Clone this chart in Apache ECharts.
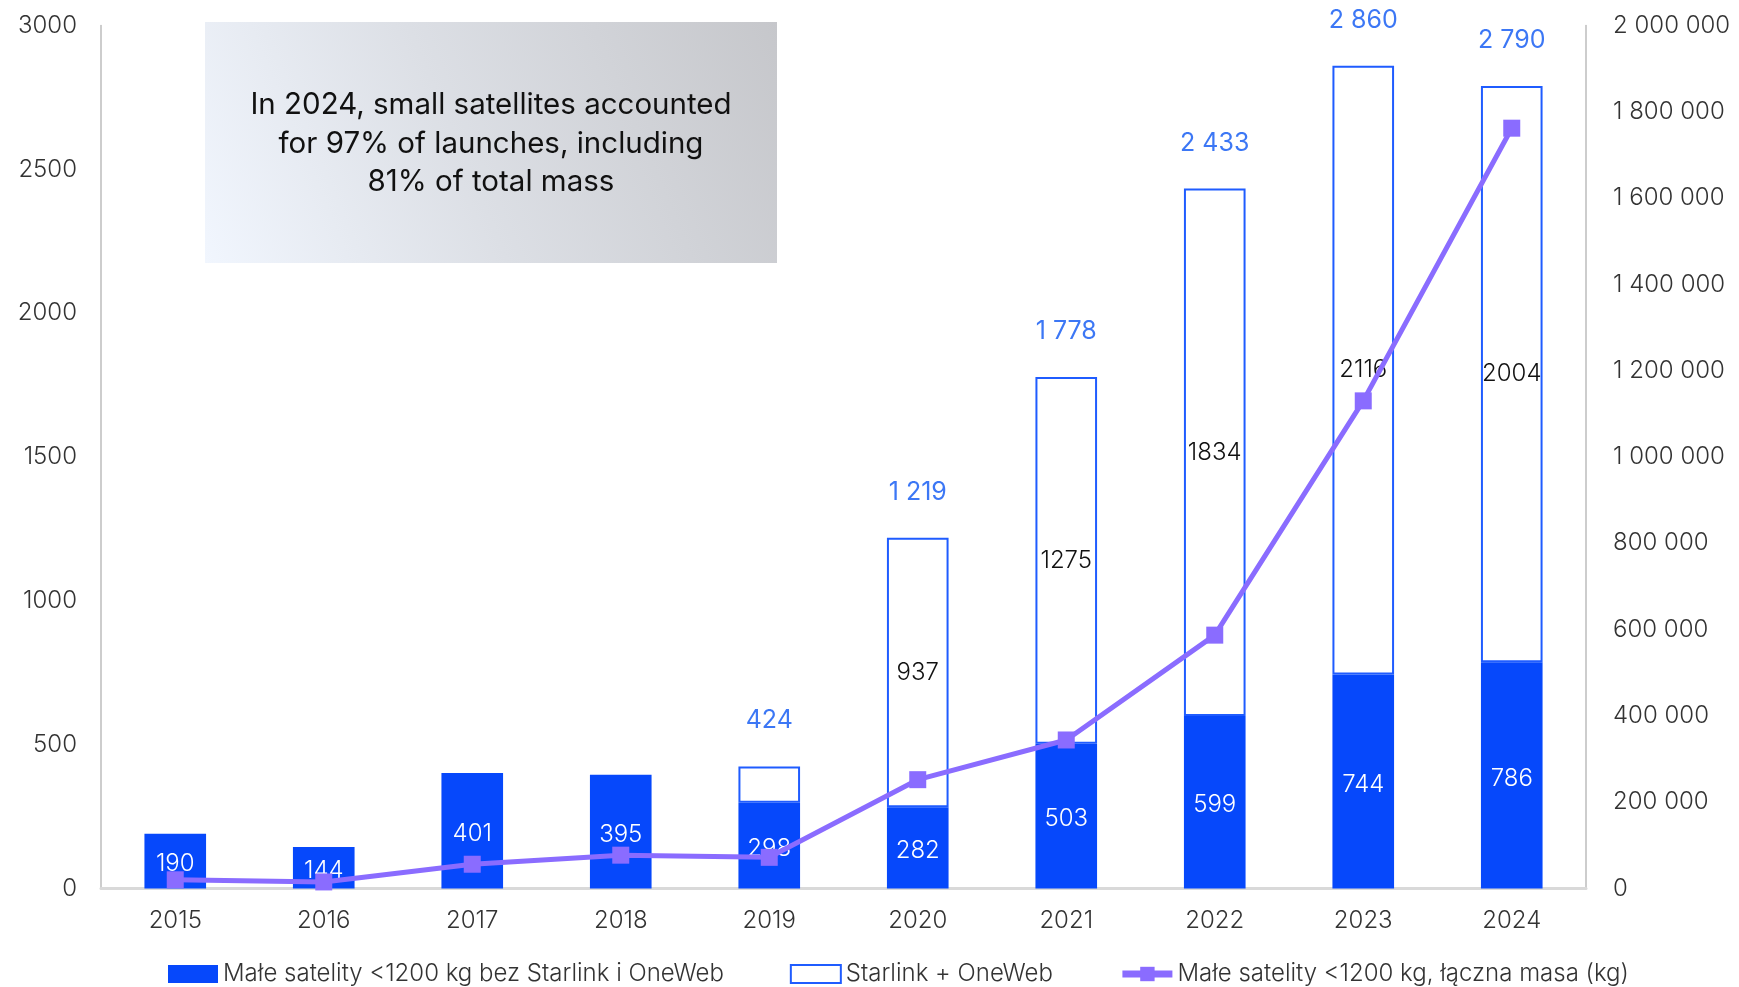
<!DOCTYPE html>
<html>
<head>
<meta charset="utf-8">
<script src="https://cdn.jsdelivr.net/npm/echarts@6/dist/echarts.min.js"></script>
<style>html,body{margin:0;padding:0;background:#fff}#c{width:1739px;height:987px}</style>
</head>
<body>
<div id="c"></div>
<script>
const years = ['2015','2016','2017','2018','2019','2020','2021','2022','2023','2024'];
const smallSats = [190,144,401,395,298,282,503,599,744,786];
const starlinkOneWeb = [null,null,null,null,126,937,1275,1834,2116,2004];
const totals = [null,null,null,null,424,1219,1778,2433,2860,2790];
const massKg = [20000,15000,56000,77000,72000,252000,344000,587000,1130000,1762000];
const noteLines = ['In 2024, small satellites accounted','for 97% of launches, including','81% of total mass'];
const seriesNames = ['Małe satelity <1200 kg bez Starlink i OneWeb','Starlink + OneWeb','Małe satelity <1200 kg, łączna masa (kg)'];

const FONT = 'Inter';
const BLUE = '#0648fb';
const BLUE_LINE = '#1f5cff';
const PURPLE = '#8a6cff';
const fmtSpace = v => String(v).replace(/\B(?=(\d{3})+(?!\d))/g, ' ');

const chart = echarts.init(document.getElementById('c'));
chart.setOption({
  animation: false,
  textStyle: {fontFamily: FONT, fontWeight: 300},
  grid: {left: 101, right: 153, top: 25.5, bottom: 98.6},
  legend: {
    top: 957, left: 163,
    itemWidth: 50, itemHeight: 18, itemGap: 66,
    textStyle: {fontFamily: FONT, fontSize: 24, color: '#333', fontWeight: 300},
    data: [
      {name: seriesNames[0], icon: 'rect'},
      {name: seriesNames[1], icon: 'rect'},
      {name: seriesNames[2], itemStyle: {color: PURPLE}, lineStyle: {color: PURPLE, width: 7}}
    ]
  },
  xAxis: {
    type: 'category', data: years,
    axisLine: {lineStyle: {color: '#d9d9d9', width: 3}},
    axisTick: {show: false},
    axisLabel: {fontFamily: FONT, fontSize: 24, color: '#333', margin: 20, fontWeight: 300}
  },
  yAxis: [
    {type: 'value', min: 0, max: 3000, interval: 500,
     axisLine: {show: true, lineStyle: {color: '#bdbdbd', width: 1.5}},
     axisTick: {show: false}, splitLine: {show: false},
     axisLabel: {fontFamily: FONT, fontSize: 24, color: '#333', margin: 24, fontWeight: 300, formatter: v => String(v)}},
    {type: 'value', min: 0, max: 2000000, interval: 200000,
     axisLine: {show: true, lineStyle: {color: '#bdbdbd', width: 1.5}},
     axisTick: {show: false}, splitLine: {show: false},
     axisLabel: {fontFamily: FONT, fontSize: 24, color: '#333', margin: 27, fontWeight: 300, formatter: fmtSpace}}
  ],
  series: [
    {
      name: seriesNames[0], type: 'bar', stack: 's', barWidth: '41.5%',
      data: smallSats,
      itemStyle: {color: BLUE},
      label: {show: true, position: 'inside', offset: [0, 3], color: '#fff', fontFamily: FONT, fontSize: 24, fontWeight: 300}
    },
    {
      name: seriesNames[1], type: 'bar', stack: 's',
      data: starlinkOneWeb.map(v => (v !== null && v < 200) ? {value: v, label: {show: false}} : v),
      itemStyle: {color: '#fff', borderColor: BLUE_LINE, borderWidth: 2},
      label: {show: true, position: 'inside', color: '#111', fontFamily: FONT, fontSize: 24, fontWeight: 300}
    },
    {
      name: 'totals', type: 'scatter', symbolSize: 0, yAxisIndex: 0,
      data: totals, z: 5, silent: true,
      label: {show: true, position: 'top', distance: 33, color: '#0b55f2', fontFamily: FONT, fontSize: 25, fontWeight: 400,
              formatter: p => fmtSpace(p.value)}
    },
    {
      name: seriesNames[2], type: 'line', yAxisIndex: 1, data: massKg,
      symbol: 'rect', symbolSize: 17, z: 10,
      lineStyle: {color: PURPLE, width: 5},
      itemStyle: {color: PURPLE}
    }
  ],
  graphic: [
    {type: 'rect', left: 205, top: 22, z: 20,
     shape: {width: 572, height: 241},
     style: {fill: new echarts.graphic.LinearGradient(0, 1, 1, 0, [
       {offset: 0, color: '#f1f6fe'}, {offset: 0.45, color: '#dcdfe5'}, {offset: 1, color: '#c6c7cb'}])}},
    {type: 'text', z: 21,
     style: {text: noteLines.join('\n'), x: 491, y: 144, textAlign: 'center', textVerticalAlign: 'middle',
             font: '400 29.5px Inter', lineHeight: 38.5, fill: '#111'}}
  ]
});
</script>
</body>
</html>
